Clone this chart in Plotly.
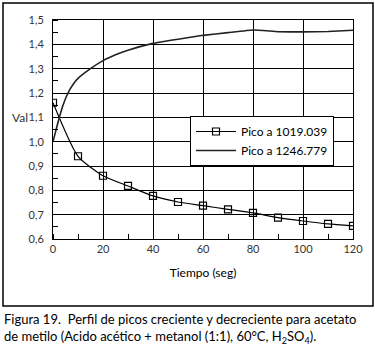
import plotly.graph_objects as go

# Data
t1 = [0, 10, 20, 30, 40, 50, 60, 70, 80, 90, 100, 110, 120]
pico_1019 = [1.16, 0.94, 0.86, 0.818, 0.777, 0.752, 0.737, 0.722, 0.707, 0.688, 0.674, 0.662, 0.654]

t2 = [0, 2, 4, 6, 8, 10, 15, 20, 25, 30, 40, 50, 60, 70, 80, 90, 100, 110, 120]
pico_1246 = [1.00, 1.08, 1.15, 1.20, 1.235, 1.26, 1.30, 1.333, 1.357, 1.376, 1.404, 1.421, 1.437, 1.448, 1.459,
             1.452, 1.451, 1.453, 1.458]

x_ticks = [0, 20, 40, 60, 80, 100, 120]
y_ticks = [0.6, 0.7, 0.8, 0.9, 1.0, 1.1, 1.2, 1.3, 1.4, 1.5]

name1 = "Pico a 1019.039"
name2 = "Pico a 1246.779"
x_title = "Tiempo (seg)"
y_title = "Val"
caption = ("Figura 19.  Perfil de picos creciente y decreciente para acetato<br>"
           "de metilo (Acido acético + metanol (1:1), 60°C, H<sub>2</sub>SO<sub>4</sub>).")

FONT = "Lato, Open Sans, sans-serif"

fig = go.Figure()
fig.add_trace(go.Scatter(
    x=t1, y=pico_1019, name=name1, mode="lines+markers",
    line=dict(color="black", width=1.2, shape="spline", smoothing=0.6),
    marker=dict(symbol="square-open", size=7, color="black", line=dict(width=1.2)),
))
fig.add_trace(go.Scatter(
    x=t2, y=pico_1246, name=name2, mode="lines",
    line=dict(color="#222222", width=1.6, shape="spline", smoothing=0.3),
))

L, R, T, B = 53, 22, 20, 109
W, H = 375, 348
pw, ph = W - L - R, H - T - B

def px2x(px):
    return (px - L) / pw

def py2y(py):
    return (T + ph - py) / ph

fig.update_layout(
    width=W, height=H,
    margin=dict(l=L, r=R, t=T, b=B),
    paper_bgcolor="white", plot_bgcolor="white",
    separators=", ",
    font=dict(family=FONT, size=11, color="black"),
    showlegend=True,
    legend=dict(
        x=px2x(190), y=py2y(116), xanchor="left", yanchor="top",
        bgcolor="white", bordercolor="black", borderwidth=1,
        font=dict(family=FONT, size=12, color="black"),
        itemwidth=40, tracegroupgap=0,
        entrywidth=92, entrywidthmode="pixels",
    ),
    xaxis=dict(
        range=[0, 120], tickvals=x_ticks, showgrid=True, gridcolor="black", gridwidth=1,
        showline=True, linecolor="black", linewidth=1, mirror=True,
        ticks="", zeroline=False,
        tickfont=dict(family=FONT, size=11, color="#333"),
        minor=dict(dtick=10, ticks="inside", ticklen=5, tickcolor="black", showgrid=False),
        title=dict(text=x_title, font=dict(family=FONT, size=12), standoff=14),
    ),
    yaxis=dict(
        range=[0.6, 1.5], tickvals=y_ticks, tickformat=".1f", showgrid=True, gridcolor="black", gridwidth=1,
        showline=True, linecolor="black", linewidth=1, mirror=True,
        ticks="", zeroline=False,
        tickfont=dict(family=FONT, size=11, color="#333"),
        minor=dict(dtick=0.05, ticks="inside", ticklen=5, tickcolor="black", showgrid=False),
        ticklabelstandoff=6,
    ),
    shapes=[dict(
        type="rect", xref="paper", yref="paper",
        x0=px2x(3), x1=px2x(373), y0=py2y(306), y1=py2y(3),
        line=dict(color="black", width=1.5), layer="below",
    )],
    annotations=[
        dict(text=y_title, xref="paper", yref="paper", x=px2x(30), y=py2y(117),
             xanchor="right", yanchor="middle", showarrow=False,
             font=dict(family=FONT, size=12, color="#333")),
        dict(text=caption, xref="paper", yref="paper", x=px2x(2), y=py2y(309),
             xanchor="left", yanchor="top", align="left", showarrow=False,
             font=dict(family=FONT, size=13, color="black")),
    ],
)

fig.write_html("out.html", config={"displayModeBar": False},
               post_script="document.body.style.margin='0';document.body.style.overflow='hidden';")
